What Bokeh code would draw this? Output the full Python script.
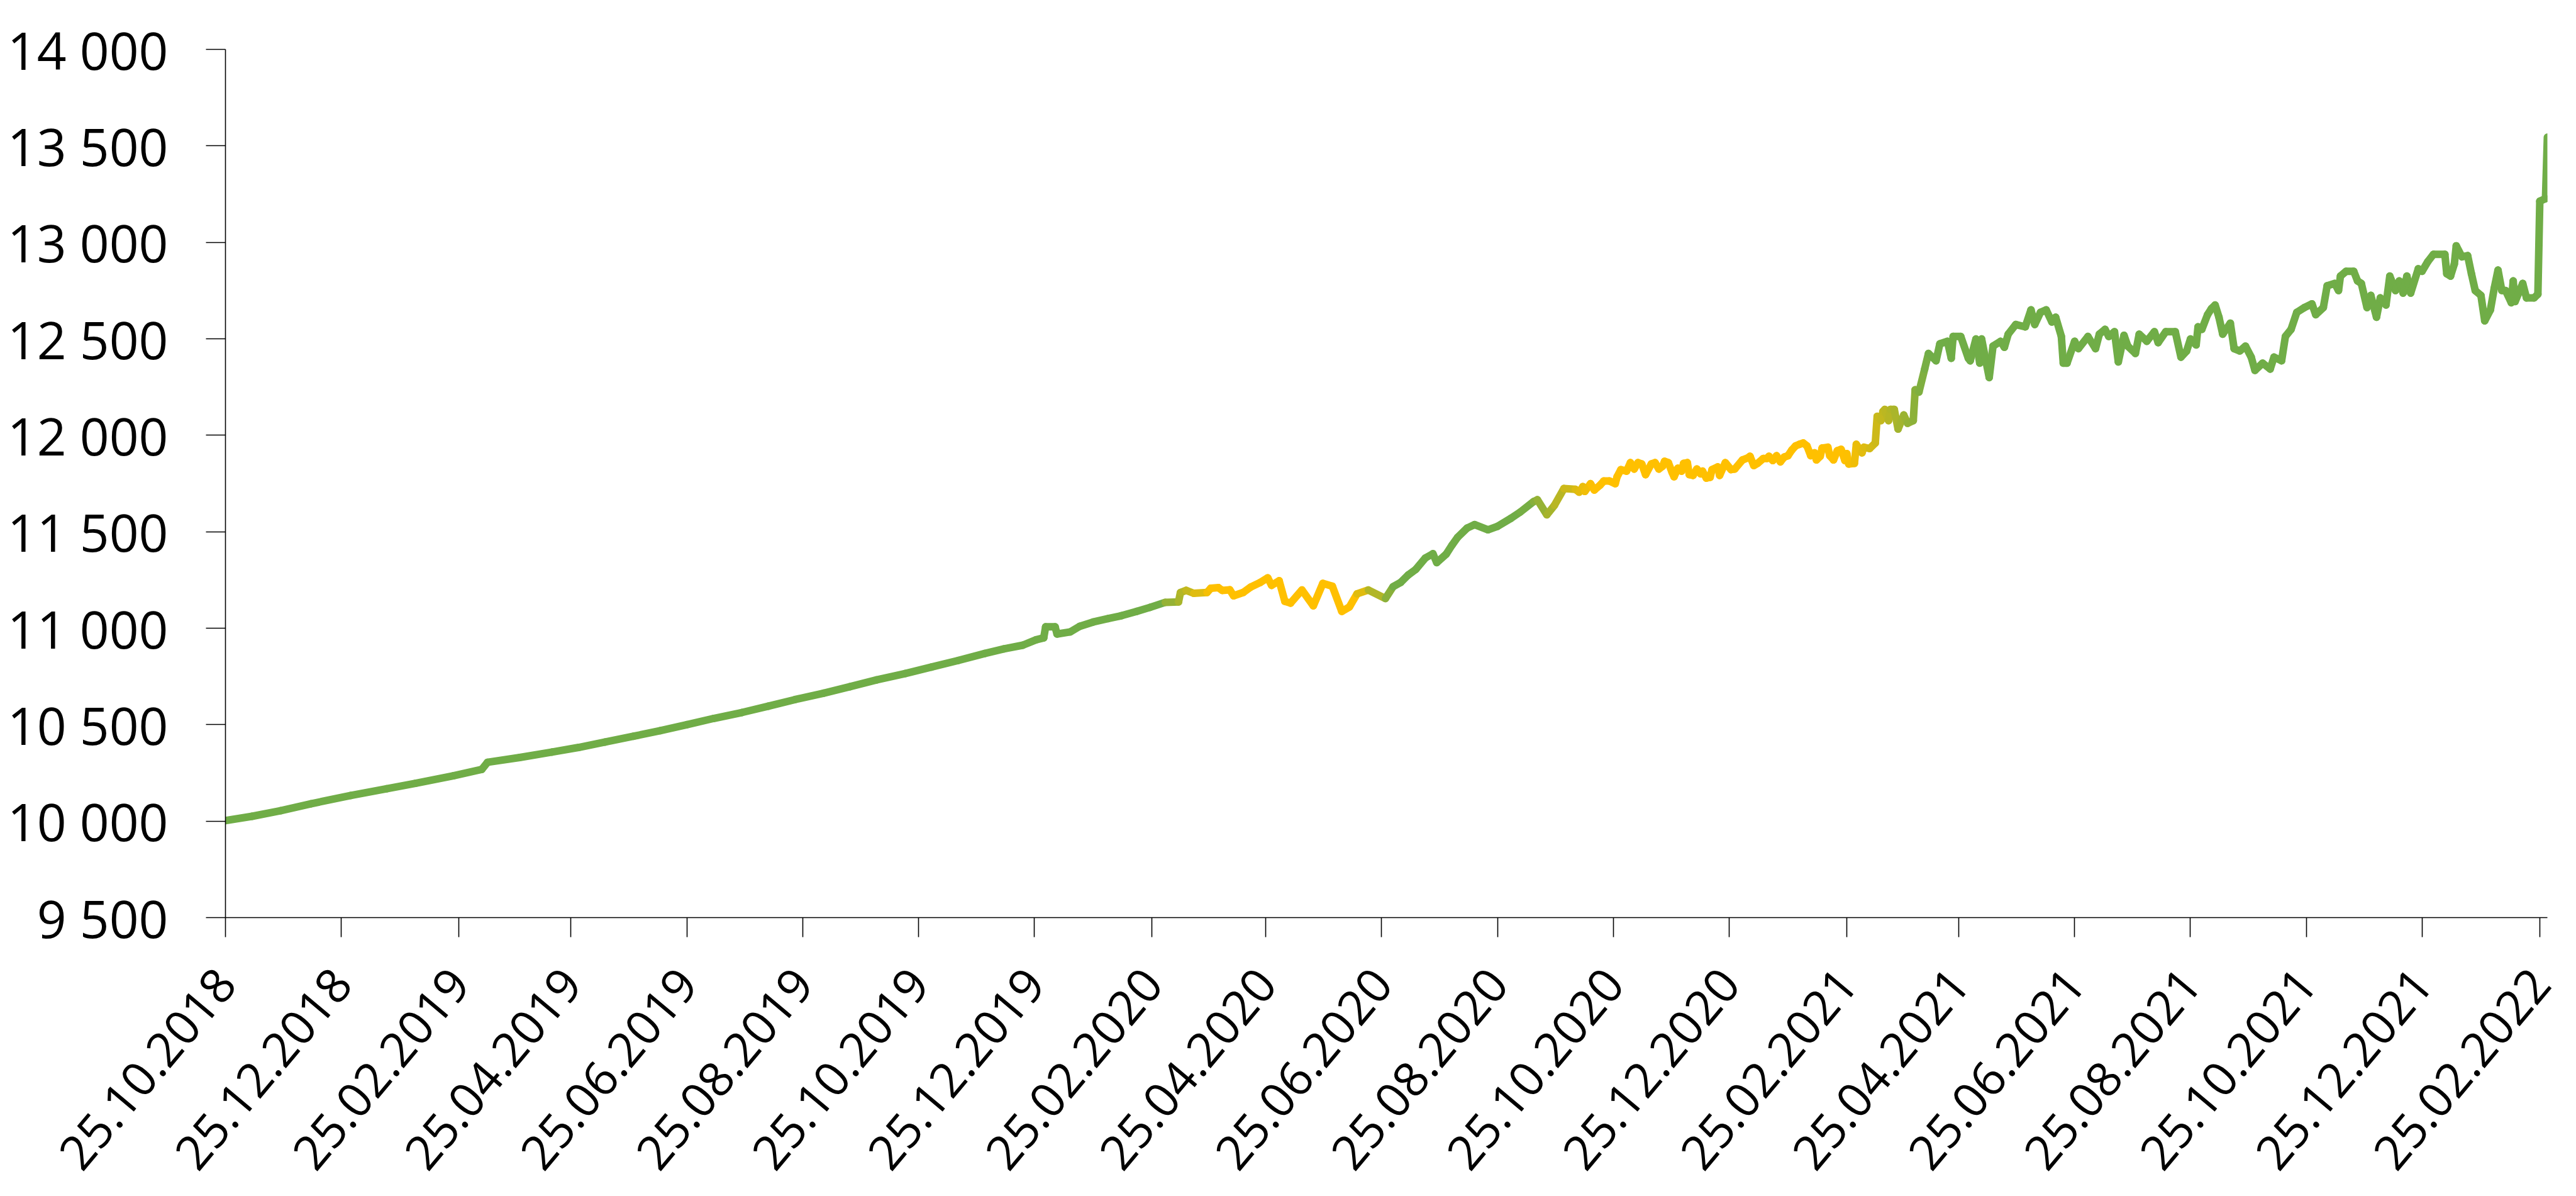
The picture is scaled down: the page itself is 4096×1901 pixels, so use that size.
import numpy as np
import pandas as pd
from bokeh.plotting import figure
from bokeh.models import FixedTicker, Range1d, DatetimeTickFormatter
from bokeh.embed import file_html
from bokeh.resources import INLINE

# ---- data ----
dates = [
    "2018-10-25", "2018-11-08", "2018-11-23", "2018-12-09", "2018-12-30", "2019-01-18",
    "2019-02-02", "2019-02-22", "2019-03-09", "2019-03-12", "2019-03-29", "2019-04-15",
    "2019-04-29", "2019-05-13", "2019-05-28", "2019-06-11", "2019-06-25", "2019-07-09",
    "2019-07-24", "2019-08-07", "2019-08-21", "2019-09-05", "2019-09-19", "2019-10-03",
    "2019-10-18", "2019-11-01", "2019-11-15", "2019-11-29", "2019-12-09", "2019-12-19",
    "2019-12-26", "2019-12-30", "2019-12-31", "2020-01-05", "2020-01-06", "2020-01-13",
    "2020-01-18", "2020-01-25", "2020-02-02", "2020-02-09", "2020-02-17", "2020-02-24",
    "2020-03-03", "2020-03-10", "2020-03-11", "2020-03-14", "2020-03-18", "2020-03-25",
    "2020-03-27", "2020-03-31", "2020-04-02", "2020-04-06", "2020-04-08", "2020-04-13",
    "2020-04-17", "2020-04-22", "2020-04-26", "2020-04-28", "2020-05-02", "2020-05-05",
    "2020-05-08", "2020-05-14", "2020-05-20", "2020-05-25", "2020-05-30", "2020-06-04",
    "2020-06-08", "2020-06-12", "2020-06-18", "2020-06-27", "2020-07-01", "2020-07-05",
    "2020-07-09", "2020-07-13", "2020-07-18", "2020-07-22", "2020-07-24", "2020-07-29",
    "2020-08-01", "2020-08-04", "2020-08-09", "2020-08-13", "2020-08-20", "2020-08-25",
    "2020-09-01", "2020-09-06", "2020-09-13", "2020-09-15", "2020-09-20", "2020-09-24",
    "2020-09-29", "2020-10-05", "2020-10-07", "2020-10-09", "2020-10-10", "2020-10-13",
    "2020-10-15", "2020-10-18", "2020-10-20", "2020-10-23", "2020-10-26", "2020-10-27",
    "2020-10-29", "2020-11-01", "2020-11-03", "2020-11-05", "2020-11-07", "2020-11-09",
    "2020-11-11", "2020-11-14", "2020-11-16", "2020-11-18", "2020-11-20", "2020-11-21",
    "2020-11-23", "2020-11-25", "2020-11-26", "2020-11-28", "2020-11-30", "2020-12-01",
    "2020-12-03", "2020-12-04", "2020-12-06", "2020-12-08", "2020-12-10", "2020-12-11",
    "2020-12-13", "2020-12-15", "2020-12-16", "2020-12-19", "2020-12-20", "2020-12-23",
    "2020-12-26", "2020-12-28", "2021-01-01", "2021-01-04", "2021-01-05", "2021-01-07",
    "2021-01-09", "2021-01-12", "2021-01-14", "2021-01-15", "2021-01-17", "2021-01-19",
    "2021-01-21", "2021-01-23", "2021-01-25", "2021-01-27", "2021-01-29", "2021-01-31",
    "2021-02-02", "2021-02-04", "2021-02-06", "2021-02-08", "2021-02-09", "2021-02-11",
    "2021-02-12", "2021-02-15", "2021-02-16", "2021-02-18", "2021-02-20", "2021-02-22",
    "2021-02-24", "2021-02-25", "2021-02-26", "2021-03-01", "2021-03-02", "2021-03-05",
    "2021-03-06", "2021-03-09", "2021-03-12", "2021-03-13", "2021-03-15", "2021-03-16",
    "2021-03-17", "2021-03-19", "2021-03-20", "2021-03-22", "2021-03-24", "2021-03-27",
    "2021-03-29", "2021-04-01", "2021-04-02", "2021-04-04", "2021-04-07", "2021-04-09",
    "2021-04-13", "2021-04-15", "2021-04-19", "2021-04-21", "2021-04-22", "2021-04-26",
    "2021-04-30", "2021-05-01", "2021-05-04", "2021-05-06", "2021-05-07", "2021-05-11",
    "2021-05-13", "2021-05-17", "2021-05-19", "2021-05-21", "2021-05-25", "2021-05-30",
    "2021-06-02", "2021-06-04", "2021-06-07", "2021-06-10", "2021-06-13", "2021-06-15",
    "2021-06-18", "2021-06-19", "2021-06-21", "2021-06-25", "2021-06-27", "2021-07-02",
    "2021-07-06", "2021-07-08", "2021-07-11", "2021-07-13", "2021-07-16", "2021-07-18",
    "2021-07-21", "2021-07-23", "2021-07-27", "2021-07-29", "2021-08-02", "2021-08-06",
    "2021-08-08", "2021-08-12", "2021-08-17", "2021-08-20", "2021-08-23", "2021-08-25",
    "2021-08-28", "2021-08-29", "2021-08-31", "2021-09-03", "2021-09-05", "2021-09-07",
    "2021-09-09", "2021-09-11", "2021-09-15", "2021-09-17", "2021-09-20", "2021-09-23",
    "2021-09-26", "2021-09-28", "2021-10-02", "2021-10-06", "2021-10-08", "2021-10-12",
    "2021-10-14", "2021-10-17", "2021-10-20", "2021-10-24", "2021-10-28", "2021-10-30",
    "2021-11-03", "2021-11-05", "2021-11-09", "2021-11-11", "2021-11-12", "2021-11-15",
    "2021-11-19", "2021-11-21", "2021-11-23", "2021-11-26", "2021-11-28", "2021-12-01",
    "2021-12-03", "2021-12-06", "2021-12-08", "2021-12-11", "2021-12-13", "2021-12-15",
    "2021-12-17", "2021-12-19", "2021-12-23", "2021-12-25", "2021-12-28", "2021-12-31",
    "2022-01-06", "2022-01-07", "2022-01-09", "2022-01-11", "2022-01-12", "2022-01-15",
    "2022-01-18", "2022-01-20", "2022-01-22", "2022-01-25", "2022-01-27", "2022-01-30",
    "2022-02-01", "2022-02-03", "2022-02-05", "2022-02-07", "2022-02-10", "2022-02-11",
    "2022-02-12", "2022-02-16", "2022-02-18", "2022-02-22", "2022-02-24", "2022-02-25",
    "2022-02-28", "2022-03-01",
]
values = [
    10003, 10025, 10054, 10090, 10133, 10168,
    10196, 10235, 10268, 10305, 10330, 10358,
    10382, 10410, 10440, 10469, 10500, 10532,
    10563, 10596, 10630, 10663, 10697, 10732,
    10765, 10799, 10833, 10869, 10893, 10912,
    10940, 10950, 11007, 11007, 10970, 10981,
    11010, 11032, 11050, 11065, 11087, 11108,
    11134, 11136, 11185, 11196, 11181, 11185,
    11207, 11210, 11196, 11199, 11168, 11185,
    11213, 11237, 11261, 11222, 11246, 11139,
    11130, 11198, 11116, 11232, 11218, 11087,
    11110, 11178, 11198, 11154, 11215, 11237,
    11276, 11305, 11364, 11386, 11340, 11384,
    11430, 11471, 11519, 11537, 11510, 11528,
    11569, 11602, 11656, 11666, 11588, 11637,
    11724, 11720, 11705, 11734, 11709, 11749,
    11716, 11741, 11763, 11763, 11749, 11785,
    11822, 11814, 11858, 11825, 11858, 11851,
    11796, 11851, 11858, 11825, 11840, 11865,
    11858, 11807, 11785, 11829, 11814, 11854,
    11858, 11796, 11792, 11825, 11800, 11814,
    11778, 11782, 11822, 11836, 11792, 11858,
    11822, 11825, 11872, 11883, 11891, 11843,
    11854, 11880, 11880, 11891, 11869, 11894,
    11862, 11887, 11894, 11923, 11945, 11953,
    11960, 11945, 11894, 11909, 11872, 11891,
    11934, 11938, 11894, 11872, 11920, 11927,
    11869, 11905, 11851, 11854, 11953, 11909,
    11938, 11931, 11960, 12098, 12076, 12123,
    12134, 12076, 12134, 12134, 12032, 12105,
    12062, 12076, 12236, 12224, 12343, 12424,
    12386, 12474, 12487, 12399, 12512, 12512,
    12399, 12386, 12499, 12374, 12499, 12299,
    12462, 12487, 12456, 12524, 12574, 12562,
    12650, 12574, 12637, 12650, 12587, 12612,
    12512, 12374, 12374, 12487, 12449, 12512,
    12449, 12524, 12549, 12512, 12537, 12380,
    12518, 12462, 12424, 12524, 12487, 12537,
    12480, 12537, 12537, 12405, 12437, 12499,
    12468, 12562, 12549, 12625, 12656, 12675,
    12612, 12524, 12581, 12449, 12437, 12462,
    12405, 12336, 12374, 12343, 12405, 12386,
    12512, 12549, 12637, 12662, 12681, 12625,
    12662, 12775, 12787, 12750, 12825, 12850,
    12850, 12800, 12787, 12662, 12725, 12612,
    12712, 12675, 12825, 12750, 12800, 12737,
    12825, 12737, 12863, 12850, 12900, 12938,
    12938, 12837, 12825, 12888, 12982, 12925,
    12931, 12837, 12750, 12725, 12593, 12650,
    12762, 12856, 12750, 12750, 12687, 12800,
    12693, 12787, 12712, 12712, 12731, 13213,
    13226, 13545,
]

x_start = "2018-10-25"
x_end = "2022-03-01"
tick_dates = [
    "2018-10-25", "2018-12-25", "2019-02-25", "2019-04-25", "2019-06-25", "2019-08-25",
    "2019-10-25", "2019-12-25", "2020-02-25", "2020-04-25", "2020-06-25", "2020-08-25",
    "2020-10-25", "2020-12-25", "2021-02-25", "2021-04-25", "2021-06-25", "2021-08-25",
    "2021-10-25", "2021-12-25", "2022-02-25",
]
y_ticks = [9500, 10000, 10500, 11000, 11500, 12000, 12500, 13000, 13500, 14000]
y_tick_labels = ["9 500", "10 000", "10 500", "11 000", "11 500", "12 000",
                 "12 500", "13 000", "13 500", "14 000"]

# colour gradient of the line (green -> yellow -> green ...)
green = (0x70, 0xAD, 0x47)
yellow = (0xFF, 0xC0, 0x00)
grad_dates = ["2020-02-28", "2020-03-28", "2020-06-10", "2020-07-03",
              "2020-09-08", "2020-10-15", "2021-02-25", "2021-04-10"]
grad_mix = [0, 1, 1, 0, 0, 1, 1, 0]

# ---- build ----
x = pd.to_datetime(dates)
y = np.array(values, dtype=float)

xm = (x[:-1].asi8 + x[1:].asi8) / 2.0
gx = pd.to_datetime(grad_dates).asi8.astype(float)
t = np.interp(xm, gx, np.array(grad_mix, dtype=float), left=0.0, right=0.0)
cols = []
for tt in t:
    r = int(round(green[0] + (yellow[0] - green[0]) * tt))
    g = int(round(green[1] + (yellow[1] - green[1]) * tt))
    b = int(round(green[2] + (yellow[2] - green[2]) * tt))
    cols.append("#%02x%02x%02x" % (r, g, b))

p = figure(
    width=4080, height=1885,
    x_axis_type="datetime",
    x_range=Range1d(pd.Timestamp(x_start), pd.Timestamp(x_end)),
    y_range=Range1d(9500, 14000),
    output_backend="svg", toolbar_location=None,
    min_border_left=358, min_border_right=30, min_border_top=78, min_border_bottom=413,
)
p.outline_line_color = None
p.xgrid.grid_line_color = None
p.ygrid.grid_line_color = None
p.background_fill_color = "white"
p.border_fill_color = "white"

p.segment(x0=x[:-1], y0=y[:-1], x1=x[1:], y1=y[1:], line_color=cols,
          line_width=12, line_cap="round")

# axes
for ax in (p.xaxis[0], p.yaxis[0]):
    ax.axis_line_color = "black"
    ax.axis_line_width = 1.6
    ax.major_tick_line_color = "black"
    ax.major_tick_line_width = 1.6
    ax.major_tick_in = 0
    ax.major_tick_out = 31
    ax.minor_tick_line_color = None
    ax.major_label_text_font = "Open Sans"
    ax.major_label_text_color = "black"

p.yaxis[0].major_label_text_font_size = "82px"
p.yaxis[0].ticker = FixedTicker(ticks=y_ticks)
p.yaxis[0].major_label_overrides = {v: s for v, s in zip(y_ticks, y_tick_labels)}
p.yaxis[0].major_label_standoff = 60

p.xaxis[0].major_label_text_font_size = "76px"
p.xaxis[0].ticker = FixedTicker(ticks=[float(v) / 1e6 for v in pd.to_datetime(tick_dates).asi8])
fmt = "%d.%m.%Y"
p.xaxis[0].formatter = DatetimeTickFormatter(
    microseconds=fmt, milliseconds=fmt, seconds=fmt, minsec=fmt, minutes=fmt,
    hourmin=fmt, hours=fmt, days=fmt, months=fmt, years=fmt, strip_leading_zeros=False,
)
p.xaxis[0].major_label_orientation = 0.8727
p.xaxis[0].major_label_standoff = 60

open("out.html", "w").write(file_html(p, INLINE))
